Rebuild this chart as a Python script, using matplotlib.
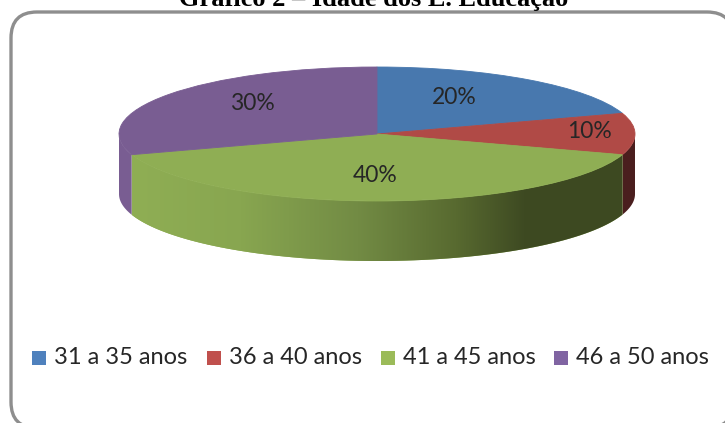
import numpy as np
import matplotlib
matplotlib.use('Agg')
import matplotlib.pyplot as plt
from matplotlib.colors import LinearSegmentedColormap
from matplotlib.patches import FancyBboxPatch, Polygon, Rectangle

title = 'Gráfico 2 – Idade dos E. Educação'
categories = ['31 a 35 anos', '36 a 40 anos', '41 a 45 anos', '46 a 50 anos']
values = [20, 10, 40, 30]

top_colors = ['#4878AE', '#B04A46', '#8FAE54', '#795D92']
legend_colors = ['#4F81BD', '#C0504D', '#9BBB59', '#8064A2']
side_colors = ['#3A5C85', '#4A1E1E', '#8FAE54', '#795D92']

W, H = 725, 423
cx, cy, rx, ry = 377, 134, 258, 67
depth = 60 / ry

fig = plt.figure(figsize=(W / 100, H / 100), dpi=100, facecolor='white')

# fundo: moldura, titulo e legenda em pixels
bg = fig.add_axes([0, 0, 1, 1])
bg.set_xlim(0, W)
bg.set_ylim(H, 0)
bg.axis('off')
bg.add_patch(FancyBboxPatch((11, 12), 722, 416, boxstyle='round,pad=0,rounding_size=26',
                            fc='white', ec='#8E8E8E', lw=2.4))
bg.text(374, 6, title, family='Liberation Serif', weight='bold', fontsize=19,
        ha='center', va='baseline', color='black')

# pizza: raio 1 em x e y, o eixo achata a elipse
ax = fig.add_axes([0, 0, 1, 1])
ax.patch.set_alpha(0)
wedges, _ = ax.pie(values, colors=top_colors, startangle=90, counterclock=False, radius=1)
for wedge, color in zip(wedges, top_colors):
    wedge.set_edgecolor(color)
    wedge.set_linewidth(0.6)
    wedge.set_zorder(2)

# lateral: parte da frente de cada fatia (90 a 270 graus a partir do topo)
ends = np.cumsum(values) / sum(values) * 360
starts = ends - np.array(values) / sum(values) * 360
green = categories.index('41 a 45 anos')
for i, (start, end, color) in enumerate(zip(starts, ends, side_colors)):
    a0, a1 = max(start, 90), min(end, 270)
    if a1 <= a0:
        continue
    t = np.radians(np.linspace(a0, a1, 80))
    x, y = np.sin(t), np.cos(t)
    pts = np.r_[np.c_[x, y], np.c_[x, y - depth][::-1]]
    poly = Polygon(pts, closed=True, fc=color, ec='none', zorder=0.5)
    ax.add_patch(poly)
    if i == green:
        # degrade do verde, claro na esquerda e escuro na direita
        cmap = LinearSegmentedColormap.from_list('lado', [
            (0.0, '#8FAE54'), (0.22, '#88A650'), (0.46, '#728B44'),
            (0.66, '#586A30'), (0.8, '#3E4A22'), (1.0, '#3D4921')])
        im = ax.imshow(np.linspace(0, 1, 256).reshape(1, -1), cmap=cmap, aspect='auto',
                       extent=(x.min(), x.max(), -1 - depth, 0), zorder=0.6)
        im.set_clip_path(poly)

ax.set_aspect('auto')
ax.set_xlim(-cx / rx, (W - cx) / rx)
ax.set_ylim((cy - H) / ry, cy / ry)

# rotulos
label_pos = [(454, 97), (589, 131), (375, 175), (252, 103)]
for (px, py), v in zip(label_pos, values):
    ax.text((px - cx) / rx, (cy - py) / ry, f'{v}%', family='Lato', fontsize=16.5,
            color='#262626', ha='center', va='center', zorder=3)

# legenda
fg = fig.add_axes([0, 0, 1, 1])
fg.patch.set_alpha(0)
fg.set_xlim(0, W)
fg.set_ylim(H, 0)
fg.axis('off')
square_x = [32, 207, 381, 554]
for sx, name, color in zip(square_x, categories, legend_colors):
    fg.add_patch(Rectangle((sx, 351), 14, 14, fc=color, ec='none'))
    fg.text(sx + 22, 358, name, family='Lato', fontsize=17, color='#262626',
            ha='left', va='center')

fig.savefig('out.png', dpi=100)
